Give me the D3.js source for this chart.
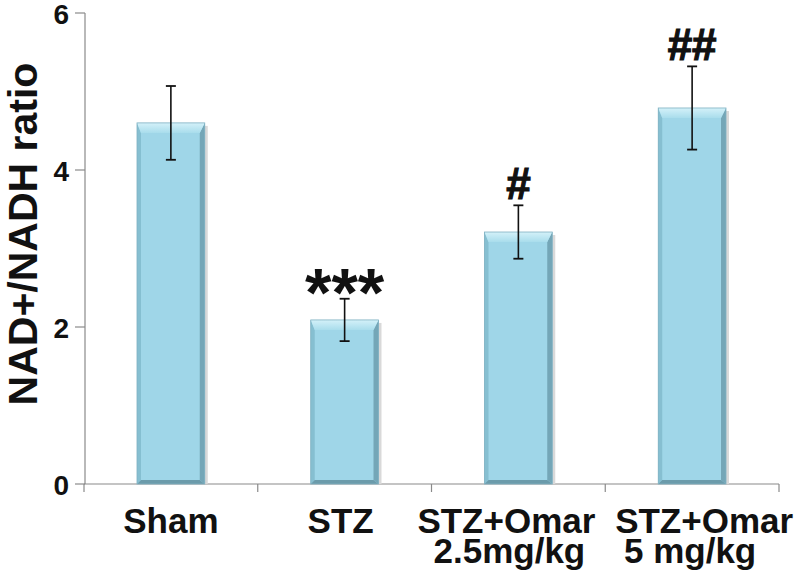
<!DOCTYPE html>
<html><head><meta charset="utf-8">
<script src="https://cdn.jsdelivr.net/npm/d3@7"></script>
<style>html,body{margin:0;padding:0;background:#fff}</style>
</head><body>
<svg id="c" width="800" height="577"></svg>
<script>
const categories = ["Sham", "STZ", "STZ+Omar|2.5mg/kg", "STZ+Omar|5 mg/kg"];
const means = [4.60, 2.09, 3.21, 4.79];
const errors = [0.47, 0.27, 0.34, 0.53];
const marks = ["", "***", "#", "##"];
const yTicks = [0, 2, 4, 6];

const svg = d3.select("#c");
const font = "'Liberation Sans', Arial, sans-serif";
const x = d3.scaleBand().domain(categories).range([84, 779]).paddingInner(0.61).paddingOuter(0.305);
const y = d3.scaleLinear().domain([0, 6]).range([484, 13]);
const axisColor = "#8a8a8a";
// horizontal nudges of label lines (layout only)
const labelShift = [[0,0],[-4,0],[-12,-9],[12,-2]];

const defs = svg.append("defs");
const g1 = defs.append("linearGradient").attr("id","bev").attr("x1",0).attr("y1",0).attr("x2",0).attr("y2",1);
g1.append("stop").attr("offset","0%").attr("stop-color","#d4f1f9");
g1.append("stop").attr("offset","100%").attr("stop-color","#a9ddec");

// y axis
svg.append("line").attr("x1",85).attr("x2",85).attr("y1",y(6)).attr("y2",y(0)).attr("stroke",axisColor).attr("stroke-width",1.2);
svg.selectAll(".yt").data(yTicks).enter().append("line")
  .attr("x1",75).attr("x2",85).attr("y1",d=>y(d)).attr("y2",d=>y(d)).attr("stroke",axisColor).attr("stroke-width",1.2);
svg.selectAll(".yl").data(yTicks).enter().append("text")
  .attr("x",69).attr("y",d=>y(d)+11).attr("text-anchor","end")
  .attr("font-family",font).attr("font-weight","bold").attr("font-size",28).attr("fill","#111").text(d=>d);

// x axis
svg.append("line").attr("x1",84).attr("x2",779).attr("y1",y(0)).attr("y2",y(0)).attr("stroke",axisColor).attr("stroke-width",1.2);
const bounds = categories.map(c=>x(c)-x.step()*x.paddingInner()/2).concat([x(categories[3])+x.bandwidth()+x.step()*x.paddingInner()/2]);
svg.selectAll(".xt").data(bounds).enter().append("line")
  .attr("x1",d=>d).attr("x2",d=>d).attr("y1",y(0)).attr("y2",y(0)+8).attr("stroke",axisColor).attr("stroke-width",1.2);

// bars
const bw = x.bandwidth();
const bars = svg.selectAll(".bar").data(categories).enter().append("g");
bars.each(function(c,i){
  const g = d3.select(this);
  const x0 = x(c), x1 = x0 + bw, yt = y(means[i]), yb = y(0);
  g.append("rect").attr("x",x0+3).attr("y",yt+3).attr("width",bw).attr("height",yb-yt-3).attr("fill","#d9d9d9");
  g.append("rect").attr("x",x0).attr("y",yt).attr("width",bw).attr("height",yb-yt).attr("fill","#9fd6e8");
  g.append("polygon").attr("points",[[x0,yt],[x0+4,yt+10],[x0+4,yb-4],[x0,yb]].join(" ")).attr("fill","#86bfd1");
  g.append("polygon").attr("points",[[x1,yt],[x1-5,yt+10],[x1-5,yb-4],[x1,yb]].join(" ")).attr("fill","#74a6b7");
  g.append("polygon").attr("points",[[x0,yb],[x0+4,yb-4],[x1-5,yb-4],[x1,yb]].join(" ")).attr("fill","#6b9bab");
  g.append("polygon").attr("points",[[x0,yt],[x1,yt],[x1-5,yt+10],[x0+4,yt+10]].join(" ")).attr("fill","url(#bev)");
  g.append("rect").attr("x",x0).attr("y",yt).attr("width",bw).attr("height",yb-yt).attr("fill","none").attr("stroke","#7fb0c1").attr("stroke-width",0.8);
});

// error bars
const cx = c => x(c) + bw/2;
svg.selectAll(".eb").data(categories).enter().append("line")
  .attr("x1",cx).attr("x2",cx).attr("y1",(c,i)=>y(means[i]+errors[i])).attr("y2",(c,i)=>y(means[i]-errors[i]))
  .attr("stroke","#111").attr("stroke-width",1.6);
[1,-1].forEach(s=>{
  svg.selectAll(".cap"+s).data(categories).enter().append("line")
    .attr("x1",c=>cx(c)-5).attr("x2",c=>cx(c)+5)
    .attr("y1",(c,i)=>y(means[i]+s*errors[i])).attr("y2",(c,i)=>y(means[i]+s*errors[i]))
    .attr("stroke","#111").attr("stroke-width",1.8);
});

// significance marks
svg.selectAll(".mk").data(categories).enter().append("text")
  .attr("x",cx)
  .attr("y",(c,i)=>y(means[i]+errors[i]) + (marks[i]==="***" ? 17 : -6))
  .attr("text-anchor","middle").attr("font-family",font).attr("font-weight","bold")
  .attr("font-size",(c,i)=>marks[i]==="***" ? 68 : 44).attr("fill","#111")
  .attr("stroke","#111").attr("stroke-width",(c,i)=>marks[i]==="***" ? 0 : 1.2)
  .text((c,i)=>marks[i]);

// x labels (one text per line)
const labelLines = [];
categories.forEach((c,i)=>c.split("|").forEach((line,k)=>labelLines.push({c,i,k,line})));
svg.selectAll(".xl").data(labelLines).enter().append("text")
  .attr("x",d=>cx(d.c)+labelShift[d.i][d.k]).attr("y",d=>533+d.k*30)
  .attr("text-anchor","middle").attr("font-family",font).attr("font-weight","bold")
  .attr("font-size",35).attr("fill","#111").text(d=>d.line);

// y title
svg.append("text").attr("transform","translate(37,234) rotate(-90)")
  .attr("text-anchor","middle").attr("font-family",font).attr("font-weight","bold")
  .attr("font-size",41).attr("fill","#111").text("NAD+/NADH ratio");
</script>
</body></html>
